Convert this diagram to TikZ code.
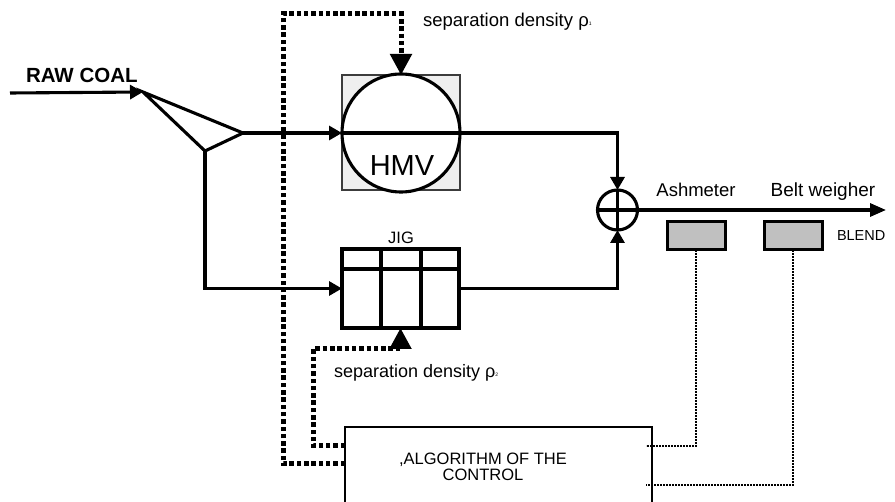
\documentclass[tikz,border=0pt]{standalone}
\usepackage{fontspec}
\setmainfont{Liberation Sans}
\usetikzlibrary{arrows.meta}
\definecolor{hmvgray}{RGB}{239,239,239}
\definecolor{hmvedge}{RGB}{60,60,60}
\definecolor{meter}{RGB}{192,192,192}
\begin{document}
\begin{tikzpicture}[x=1pt,y=-1pt,
  flow/.style={line width=3.1pt},
  tipS/.style={-{Triangle[length=13pt,width=14pt]}},
  tipO/.style={-{Triangle[length=16pt,width=13pt]}},
  tipB/.style={-{Triangle[length=21pt,width=21pt]}},
  thickdot/.style={line width=5pt,dash pattern=on 4.5pt off 2.8pt},
  thindot/.style={line width=1.7pt,dash pattern=on 2pt off 1pt},
  lbl/.style={inner sep=0pt,outer sep=0pt},
  meterbox/.style={draw,fill=meter,line width=3pt,minimum width=58pt,minimum height=28pt,inner sep=0pt,outer sep=0pt},
  fs/.style={font=\fontsize{#1}{#1}\selectfont}
]
\useasboundingbox (0,0) rectangle (895,502);

% splitter
\coordinate (rawin) at (10,93);
\coordinate (sA) at (143,92);
\coordinate (sB) at (243,133);
\coordinate (sC) at (205,151);
\draw[flow,line join=miter] (sA) -- (sB) -- (sC) -- cycle;

% HMV
\node[draw=hmvedge,fill=hmvgray,line width=1.8pt,minimum width=118pt,minimum height=115pt,inner sep=0pt,outer sep=0pt] (hmv) at (401,132.5) {};
\node[circle,draw,fill=white,line width=3.1pt,minimum size=118pt,inner sep=0pt,outer sep=0pt] (hmvc) at (401,133) {};
\draw[flow] (hmvc.west) -- (hmvc.east);
\node[lbl,fs=29] (hmvlbl) at (402,166) {HMV};

% JIG
\node[draw,line width=3.1pt,minimum width=117pt,minimum height=79pt,inner sep=0pt,outer sep=0pt] (jig) at (400.5,288.5) {};
\draw[flow] (jig.north west) ++(0,20) coordinate (jigh) -- (jigh -| jig.east);
\draw[flow] ([xshift=39pt]jig.north west) -- ([xshift=39pt]jig.south west);
\draw[flow] ([xshift=-38pt]jig.north east) -- ([xshift=-38pt]jig.south east);
\node[lbl,fs=16.5] (jiglbl) at (401,238) {JIG};

% summing junction
\node[circle,draw,line width=3.1pt,minimum size=40pt,inner sep=0pt,outer sep=0pt] (sum) at (617.5,210) {};
\draw[flow] (sum.north) -- (sum.south);
\draw[flow] (sum.west) -- (sum.east);

% meters
\node[meterbox] (ash) at (696,236) {};
\node[meterbox] (belt) at (793,236) {};
\node[lbl,fs=18.5,anchor=base] (ashlbl) at (696,197) {Ashmeter};
\node[lbl,fs=19,anchor=base] (beltlbl) at (823,197) {Belt weigher};
\node[lbl,fs=14.5,anchor=base west] (blend) at (837,241) {BLEND};
\coordinate (outend) at (886,210);

% control box
\node[draw,line width=2.6pt,minimum width=307pt,minimum height=100pt,anchor=north west,inner sep=0pt,outer sep=0pt] (algo) at (345,427) {};
\node[lbl,align=center,font=\fontsize{16.5}{16.5}\selectfont] (algolbl) at (483,467) {,ALGORITHM OF THE\\CONTROL};

% labels
\node[lbl,fs=20.5,anchor=base west] (rawlbl) at (26,83) {\bfseries RAW COAL};
\node[lbl,fs=18.5,anchor=base west] (rho1) at (423,27) {separation density ρ\raisebox{1pt}{\fontsize{5}{5}\selectfont 1}};
\node[lbl,fs=18,anchor=base west] (rho2) at (334,378) {separation density ρ\raisebox{1pt}{\fontsize{5}{5}\selectfont 2}};

% flows
\draw[flow,tipS] (rawin) -- (sA);
\draw[flow,tipS] (sB) -- (hmv.west |- sB);
\draw[flow,tipS] (sC) |- (jig.west);
\draw[flow,tipS] (hmvc.east) -| (sum.north);
\draw[flow,tipS] (jig.east) -| (sum.south);
\draw[flow,tipO] (sum.east) -- (outend);

% control signals
\draw[thickdot,tipB] ([yshift=-37pt]algo.north west) -| (283,14) -| (hmv.north);
\draw[thickdot,tipB] ([yshift=-19pt]algo.north west) -| (313,349) -| (jig.south);
\draw[thindot] (ash.south) |- ([xshift=-6pt,yshift=-19pt]algo.north east);
\draw[thindot] (belt.south) |- ([xshift=-6pt,yshift=-58pt]algo.north east);
\end{tikzpicture}
\end{document}
